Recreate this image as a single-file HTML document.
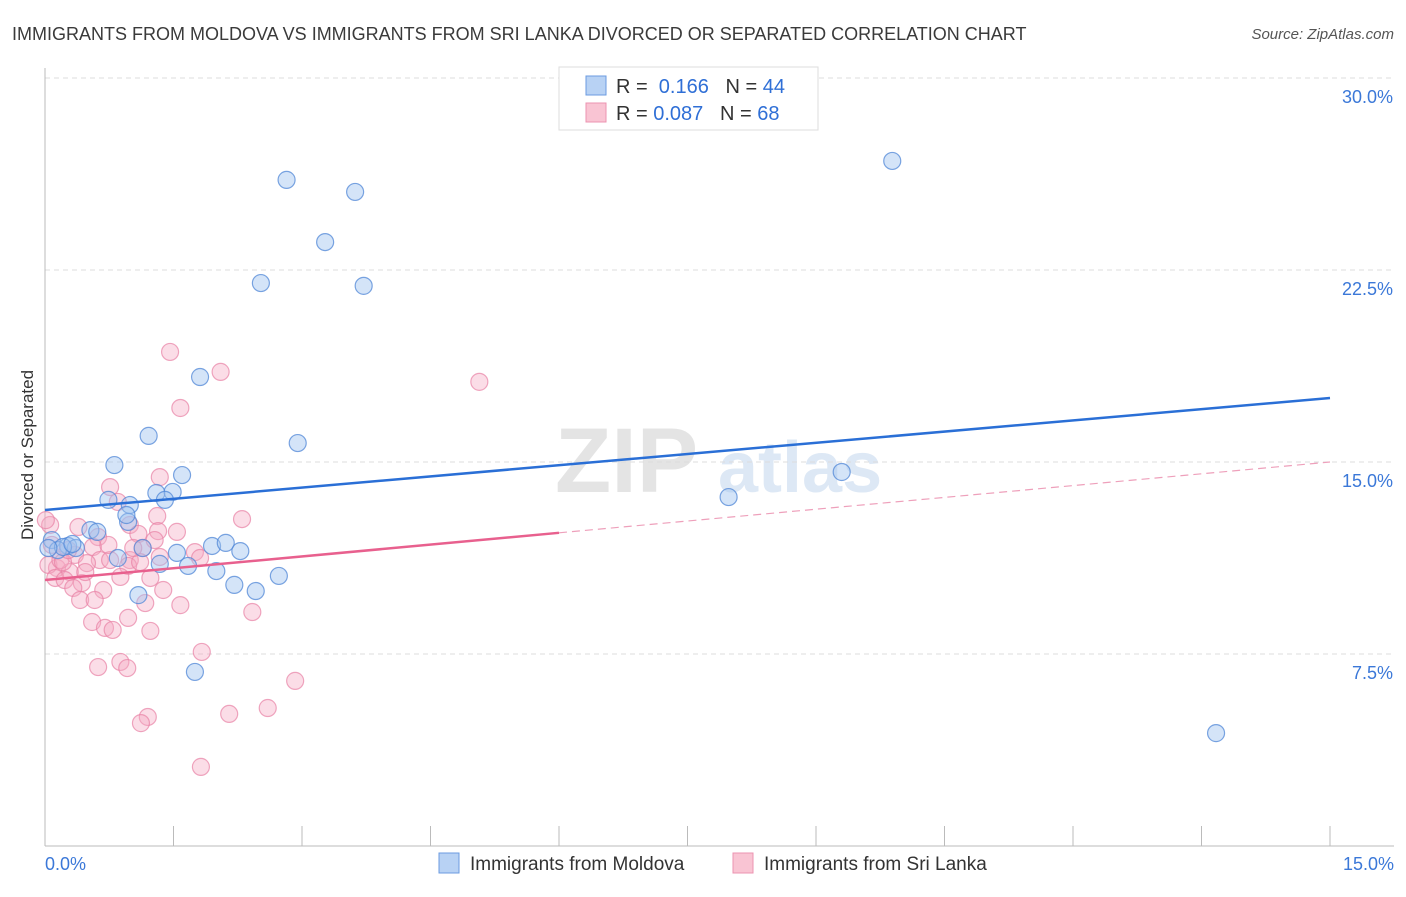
<!DOCTYPE html>
<html><head><meta charset="utf-8">
<style>
body{margin:0;background:#fff;font-family:"Liberation Sans",sans-serif;}
svg text{font-family:"Liberation Sans",sans-serif;}
</style></head>
<body>
<svg id="chart" width="1406" height="892" viewBox="0 0 1406 892">
<text x="12" y="40" font-size="18" fill="#3a3a3a">IMMIGRANTS FROM MOLDOVA VS IMMIGRANTS FROM SRI LANKA DIVORCED OR SEPARATED CORRELATION CHART</text>
<text x="1394" y="39" font-size="15" fill="#555" text-anchor="end" font-style="italic">Source: ZipAtlas.com</text>
<g>
<text x="555" y="492" font-size="92" fill="#e4e4e4" font-family="Liberation Serif" font-weight="bold">ZIP</text>
<text x="718" y="492" font-size="72" fill="#dde8f5" font-weight="bold">atlas</text>
</g>
<g id="grid"></g>
<g id="axes"></g>
<g id="pink"></g>
<g id="blue"></g>
<g id="lines"></g>
<text transform="translate(33,455) rotate(-90)" font-size="17" fill="#333" text-anchor="middle">Divorced or Separated</text>
<g>
<rect x="559" y="67" width="259" height="63" fill="#fff" stroke="#ddd"/>
<rect x="586" y="76" width="20" height="19" fill="#b8d2f4" stroke="#6b9be0"/>
<rect x="586" y="103" width="20" height="19" fill="#f9c4d3" stroke="#ec93b0"/>
<text x="616" y="93" font-size="20" fill="#333">R = <tspan fill="#2f6fd6">&#160;0.166</tspan>&#160;&#160;&#160;N = <tspan fill="#2f6fd6">44</tspan></text>
<text x="616" y="120" font-size="20" fill="#333">R = <tspan fill="#2f6fd6">0.087</tspan>&#160;&#160;&#160;N = <tspan fill="#2f6fd6">68</tspan></text>
</g>
<g>
<rect x="439" y="853" width="20" height="20" fill="#b8d2f4" stroke="#6b9be0"/>
<text x="470" y="870" font-size="19" fill="#333">Immigrants from Moldova</text>
<rect x="733" y="853" width="20" height="20" fill="#f9c4d3" stroke="#ec93b0"/>
<text x="764" y="870" font-size="19" fill="#333">Immigrants from Sri Lanka</text>
</g>
</svg>
<script>
const yTicks=[30,22.5,15,7.5];
const yTickLabels=["30.0%","22.5%","15.0%","7.5%"];
const xTickLabels=["0.0%","15.0%"];
const blueX=[2.82,3.62,3.27,2.52,3.72,9.89,1.81,1.21,2.95,0.81,1.60,1.30,1.49,1.40,0.74,0.99,0.97,0.95,0.53,0.61,0.08,0.27,0.36,0.15,0.85,1.14,1.54,1.95,2.11,2.28,1.34,1.67,2.00,2.21,2.46,2.73,1.09,1.75,7.98,9.30,13.67,0.21,0.04,0.32];
const blueY=[26.02,25.55,23.59,21.99,21.88,26.76,18.32,16.02,15.74,14.88,14.49,13.79,13.83,13.52,13.52,13.32,12.66,12.93,12.34,12.27,11.95,11.72,11.64,11.56,11.25,11.64,11.45,11.72,11.84,11.52,11.02,10.94,10.74,10.20,9.96,10.55,9.80,6.80,13.63,14.61,4.41,11.68,11.64,11.80];
const pinkX=[1.46,2.05,5.07,1.58,1.34,0.76,0.85,2.30,1.31,0.39,0.99,1.54,0.62,1.09,1.32,0.06,1.14,1.28,0.56,0.35,0.64,0.99,1.34,1.75,0.97,0.49,0.14,0.29,0.76,1.11,0.04,0.12,0.23,0.43,0.88,1.23,0.33,0.68,0.41,0.58,1.38,1.17,1.58,2.42,0.97,0.55,0.70,0.79,1.23,1.83,0.62,0.88,0.96,2.92,1.20,1.12,2.15,2.60,1.82,0.18,0.08,0.21,0.47,0.74,1.03,0.01,0.27,1.81];
const pinkY=[19.30,18.52,18.13,17.11,14.41,14.02,13.44,12.77,12.89,12.46,12.54,12.27,12.07,12.19,12.30,12.54,11.64,11.95,11.68,11.37,11.17,11.17,11.29,11.48,10.94,11.05,10.86,10.70,11.17,11.09,10.98,10.47,10.39,10.27,10.51,10.47,10.08,10.00,9.61,9.61,10.00,9.49,9.41,9.14,8.91,8.75,8.52,8.44,8.40,7.58,6.99,7.19,6.95,6.45,5.04,4.80,5.16,5.39,3.09,11.17,11.76,11.09,10.70,11.76,11.64,12.73,11.56,11.25];
const blueTrend=[13.125,17.5];
const pinkTrend=[10.39,15.0];
const pinkSolidEnd=6.0;
const NS="http://www.w3.org/2000/svg";
const X=v=>45+v*(1285/15);
const Y=v=>846-v*25.6;
function mk(tag,attrs,parent){const e=document.createElementNS(NS,tag);for(const k in attrs)e.setAttribute(k,attrs[k]);parent.appendChild(e);return e;}
const grid=document.getElementById('grid'),axes=document.getElementById('axes');
yTicks.forEach((t,i)=>{
 const l=mk('line',{x1:45,x2:1394,y1:Y(t),y2:Y(t),stroke:'#ddd','stroke-dasharray':'5,4'},grid);
 
 
 const tx=mk('text',{x:1393,y:Y(t)+25,'font-size':18,fill:'#3b78d8','text-anchor':'end'},axes);
 tx.textContent=yTickLabels[i];
 
 
});
mk('line',{x1:45,x2:45,y1:68,y2:846,stroke:'#bbb'},axes);
mk('line',{x1:45,x2:1394,y1:846,y2:846,stroke:'#bbb'},axes);
for(let i=0;i<=10;i++){
 const t=mk('line',{x1:X(i*1.5),x2:X(i*1.5),y1:826,y2:846,stroke:'#bbb'},axes);
 
 
}
[[0,'start',45],[15,'end',1394]].forEach((d,i)=>{
 const tx=mk('text',{x:d[2],y:870,'font-size':18,fill:'#3b78d8','text-anchor':d[1]},axes);
 tx.textContent=xTickLabels[i];
 
 
});
const pg=document.getElementById('pink');
pinkX.forEach((v,i)=>{
 const c=mk('circle',{cx:X(v),cy:Y(pinkY[i]),r:8.5,fill:'rgba(245,170,195,0.4)',stroke:'rgba(232,130,165,0.7)','stroke-width':1.2},pg);
 
 
});
const bg=document.getElementById('blue');
blueX.forEach((v,i)=>{
 const c=mk('circle',{cx:X(v),cy:Y(blueY[i]),r:8.5,fill:'rgba(160,195,240,0.45)',stroke:'rgba(80,135,215,0.75)','stroke-width':1.2},bg);
 
 
});
const lg=document.getElementById('lines');
const bl=mk('line',{x1:X(0),y1:Y(blueTrend[0]),x2:X(15),y2:Y(blueTrend[1]),stroke:'#2a6fd6','stroke-width':2.5},lg);


const pAt=v=>pinkTrend[0]+(pinkTrend[1]-pinkTrend[0])*v/15;
const ps=mk('line',{x1:X(0),y1:Y(pAt(0)),x2:X(pinkSolidEnd),y2:Y(pAt(pinkSolidEnd)),stroke:'#e8608e','stroke-width':2.5},lg);


const pd=mk('line',{x1:X(pinkSolidEnd),y1:Y(pAt(pinkSolidEnd)),x2:X(15),y2:Y(pAt(15)),stroke:'#eea0bb','stroke-width':1.2,'stroke-dasharray':'8,5'},lg);


</script>
</body></html>
